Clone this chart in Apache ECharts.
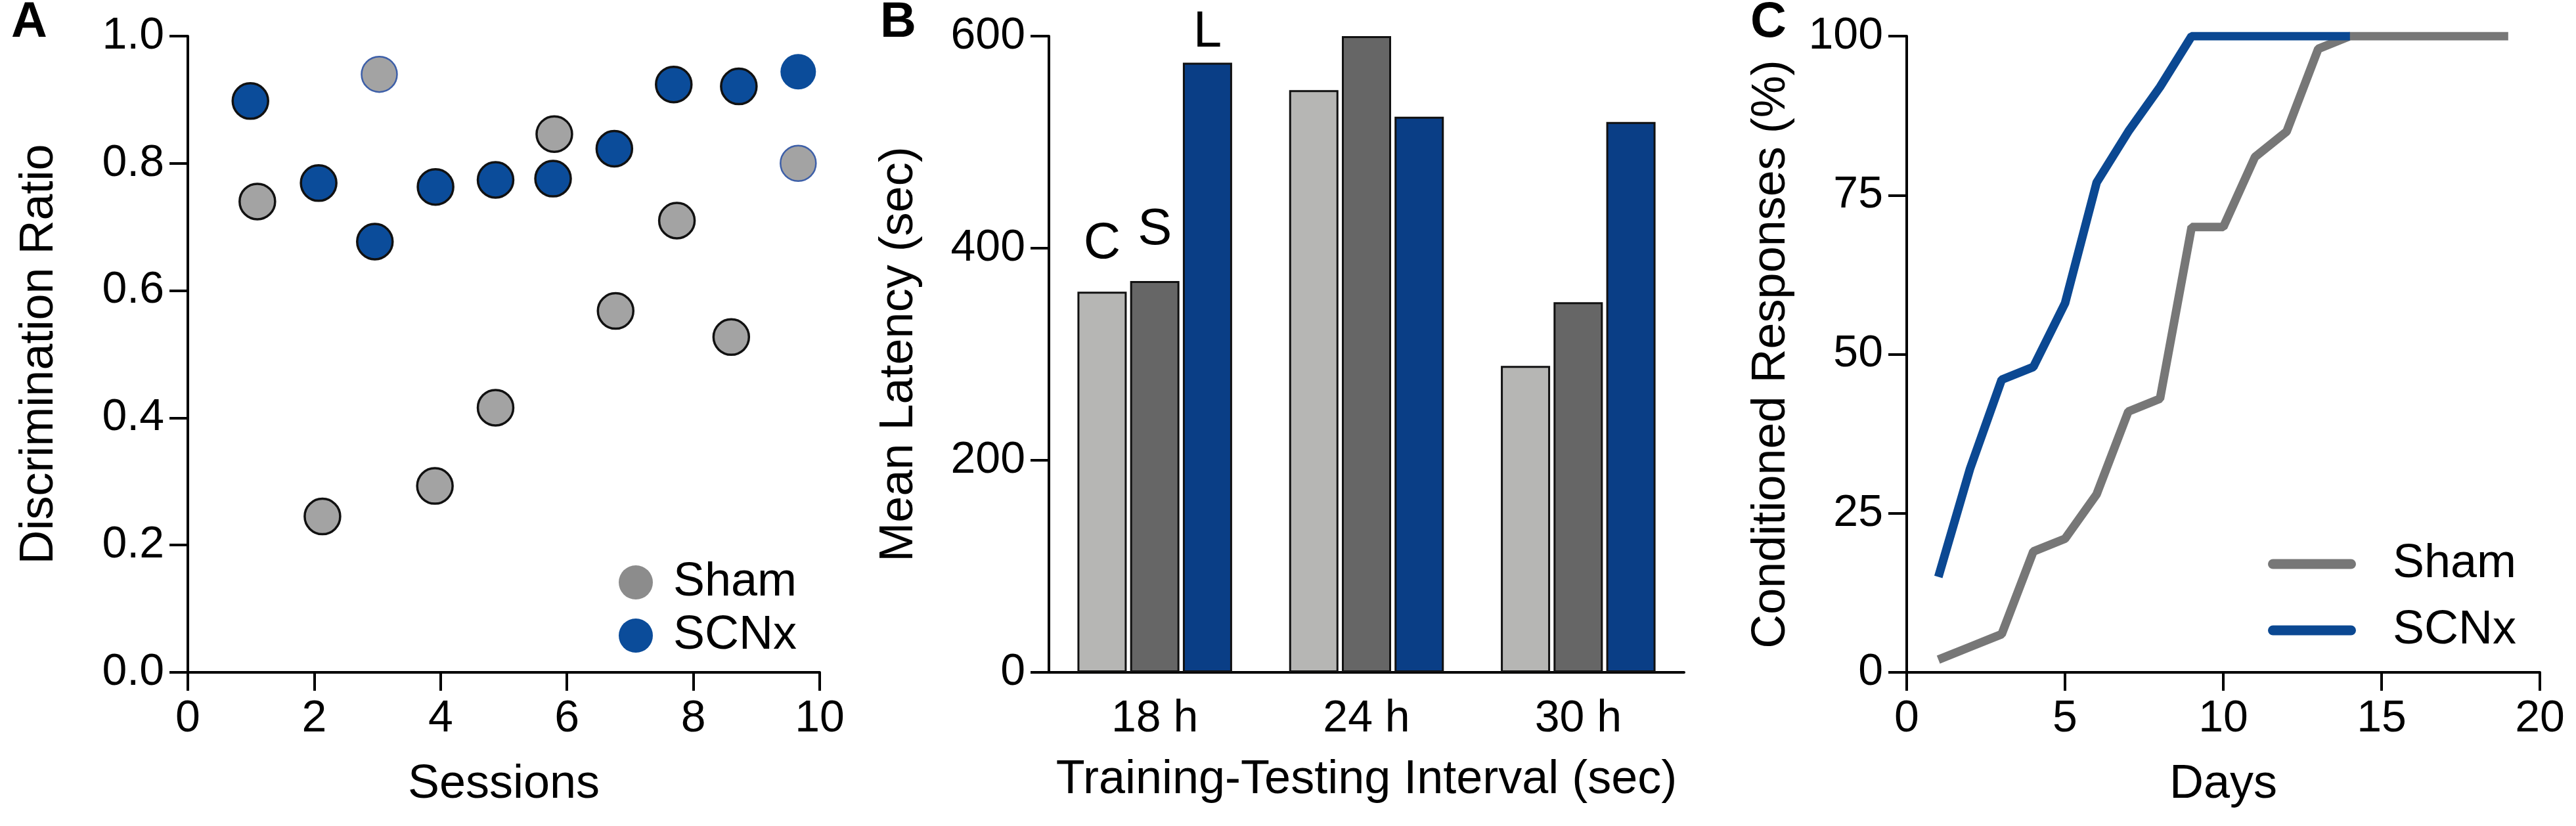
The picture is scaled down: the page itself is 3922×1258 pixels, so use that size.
<!DOCTYPE html>
<html lang="en">
<head>
<meta charset="UTF-8">
<title>Discrimination, latency and conditioned responses</title>
<script src="https://cdn.jsdelivr.net/npm/echarts@6/dist/echarts.min.js"></script>
<style>
    html, body { margin: 0; padding: 0; background: #fff; }
    #main { width: 3922px; height: 1258px; }
</style>
</head>
<body>
<div id="main"></div>
<script>
    // ---- panel A: discrimination ratio per session ----
    var shamSessions = [1.10, 2.13, 3.03, 3.91, 4.87, 5.80, 6.77, 7.74, 8.60, 9.66];
    var shamRatio = [0.74, 0.245, 0.94, 0.293, 0.416, 0.846, 0.568, 0.71, 0.527, 0.80];
    var shamBlueRing = [2, 9];      // grey points drawn with a thin blue ring
    var scnxSessions = [0.99, 2.07, 2.96, 3.92, 4.87, 5.78, 6.75, 7.69, 8.72, 9.66];
    var scnxRatio = [0.898, 0.769, 0.677, 0.763, 0.774, 0.776, 0.823, 0.924, 0.921, 0.944];
    var scnxNoRing = [9];

    // ---- panel B: mean latency ----
    var intervals = ['18 h', '24 h', '30 h'];
    var latencyC = [359, 549, 289];
    var latencyS = [369, 600, 349];
    var latencyL = [575, 524, 519];

    // ---- panel C: conditioned responses ----
    var shamDays = [1, 2, 3, 4, 5, 6, 7, 8, 9, 10, 11, 12, 13, 14, 15, 16, 17, 18, 19];
    var shamCR = [2, 4, 6, 19, 21, 28, 41, 43, 70, 70, 81, 85, 98, 100, 100, 100, 100, 100, 100];
    var scnxDays = [1, 2, 3, 4, 5, 6, 7, 8, 9, 10, 11, 12, 13, 14];
    var scnxCR = [15, 32, 46, 48, 58, 77, 85, 92, 100, 100, 100, 100, 100, 100];

    var FONT = 'Liberation Sans';
    var GREY = '#a3a3a3', BLUE = '#0b4c9a';

    var shamPoints = shamSessions.map(function (s, i) {
        var p = {value: [s, shamRatio[i]]};
        if (shamBlueRing.indexOf(i) >= 0) p.itemStyle = {borderColor: '#3d5fa8', borderWidth: 2.5};
        return p;
    });
    var scnxPoints = scnxSessions.map(function (s, i) {
        var p = {value: [s, scnxRatio[i]]};
        if (scnxNoRing.indexOf(i) >= 0) p.itemStyle = {borderWidth: 0};
        return p;
    });
    var shamLine = shamDays.map(function (d, i) { return [d, shamCR[i]]; });
    var scnxLine = scnxDays.map(function (d, i) { return [d, scnxCR[i]]; });

    function firstLabel(values, text, dist) {
        return values.map(function (v, i) {
            if (i > 0) return v;
            return {value: v, label: {show: true, position: 'top', formatter: text, distance: dist,
                fontSize: 78, color: '#000', fontFamily: FONT}};
        });
    }

    var axisLine = {lineStyle: {color: '#000', width: 4}};
    var axisTick = {length: 28, lineStyle: {color: '#000', width: 4}};
    var tickLabelX = {fontSize: 68, color: '#000', margin: 37, fontFamily: FONT};
    var tickLabelY = {fontSize: 68, color: '#000', margin: 36, fontFamily: FONT};
    var nameStyle = {fontSize: 72, color: '#000', fontFamily: FONT};

    function xValue(idx, min, max, step, name) {
        return {type: 'value', gridIndex: idx, min: min, max: max, interval: step,
            name: name, nameLocation: 'middle', nameGap: 135, nameTextStyle: nameStyle,
            axisLine: axisLine, axisTick: axisTick, axisLabel: tickLabelX, splitLine: {show: false}};
    }
    function yValue(idx, min, max, step, name, gap, fmt) {
        return {type: 'value', gridIndex: idx, min: min, max: max, interval: step,
            name: name, nameLocation: 'middle', nameGap: gap, nameTextStyle: nameStyle,
            axisLine: {show: true, lineStyle: axisLine.lineStyle}, axisTick: {show: true, length: 28, lineStyle: axisTick.lineStyle},
            axisLabel: Object.assign({}, tickLabelY, fmt ? {formatter: fmt} : {}), splitLine: {show: false}};
    }

    var roundLine = 'path://M7.5,0H126.5A7.5,7.5,0,0,1,126.5,15H7.5A7.5,7.5,0,0,1,7.5,0Z';

    var chart = echarts.init(document.getElementById('main'));
    chart.setOption({
        animation: false,
        backgroundColor: '#fff',
        textStyle: {fontFamily: FONT},
        grid: [
            {left: 286, top: 55, width: 962, height: 969},
            {left: 1597, top: 55, width: 967, height: 969},
            {left: 2903, top: 55, width: 964, height: 969}
        ],
        xAxis: [
            xValue(0, 0, 10, 2, 'Sessions'),
            {type: 'category', gridIndex: 1, data: intervals, name: 'Training-Testing Interval (sec)',
                nameLocation: 'middle', nameGap: 128, nameTextStyle: nameStyle,
                axisLine: axisLine, axisTick: {alignWithLabel: true, length: 28, lineStyle: axisTick.lineStyle},
                axisLabel: tickLabelX},
            xValue(2, 0, 20, 5, 'Days')
        ],
        yAxis: [
            yValue(0, 0, 1, 0.2, 'Discrimination Ratio', 190, function (v) { return v.toFixed(1); }),
            yValue(1, 0, 600, 200, 'Mean Latency (sec)', 192, null),
            yValue(2, 0, 100, 25, 'Conditioned Responses (%)', 170, null)
        ],
        legend: [
            {orient: 'vertical', left: 942, top: 851, padding: 0, itemGap: 9,
                itemWidth: 52, itemHeight: 52,
                textStyle: {fontSize: 72, color: '#000', lineHeight: 72, padding: [0, 0, 0, 26]},
                data: [
                    {name: 'Sham', icon: 'circle', itemStyle: {color: '#8c8c8c', borderWidth: 0}},
                    {name: 'SCNx', icon: 'circle', itemStyle: {color: BLUE, borderWidth: 0}}
                ]},
            {orient: 'vertical', left: 3453, top: 823, padding: 0, itemGap: 29,
                itemWidth: 134, itemHeight: 15,
                textStyle: {fontSize: 72, color: '#000', lineHeight: 72, padding: [0, 0, 0, 51]},
                data: [
                    {name: 'Sham', icon: roundLine, itemStyle: {color: '#777777', borderWidth: 0}},
                    {name: 'SCNx', icon: roundLine, itemStyle: {color: '#0b4892', borderWidth: 0}}
                ]}
        ],
        graphic: [
            {type: 'text', left: 17, top: -3, style: {text: 'A', fontSize: 76, fontWeight: 'bold', fontFamily: FONT, fill: '#000'}},
            {type: 'text', left: 1340, top: -3, style: {text: 'B', fontSize: 76, fontWeight: 'bold', fontFamily: FONT, fill: '#000'}},
            {type: 'text', left: 2665, top: -3, style: {text: 'C', fontSize: 76, fontWeight: 'bold', fontFamily: FONT, fill: '#000'}}
        ],
        series: [
            {name: 'Sham', type: 'scatter', xAxisIndex: 0, yAxisIndex: 0, symbolSize: 54,
                itemStyle: {color: GREY, borderColor: '#111', borderWidth: 3.5, opacity: 1},
                data: shamPoints},
            {name: 'SCNx', type: 'scatter', xAxisIndex: 0, yAxisIndex: 0, symbolSize: 54,
                itemStyle: {color: BLUE, borderColor: '#111', borderWidth: 3.5, opacity: 1},
                data: scnxPoints},
            {name: 'C', type: 'bar', xAxisIndex: 1, yAxisIndex: 1, barWidth: 75, barGap: '7%',
                itemStyle: {color: '#b6b6b4', borderColor: '#111', borderWidth: 3},
                data: firstLabel(latencyC, 'C', 34)},
            {name: 'S', type: 'bar', xAxisIndex: 1, yAxisIndex: 1, barWidth: 75, barGap: '7%',
                itemStyle: {color: '#666666', borderColor: '#111', borderWidth: 3},
                data: firstLabel(latencyS, 'S', 39)},
            {name: 'L', type: 'bar', xAxisIndex: 1, yAxisIndex: 1, barWidth: 75, barGap: '7%',
                itemStyle: {color: '#0a3e86', borderColor: '#111', borderWidth: 3},
                data: firstLabel(latencyL, 'L', 7)},
            {name: 'Sham', type: 'line', xAxisIndex: 2, yAxisIndex: 2, showSymbol: false, symbol: 'none',
                lineStyle: {color: '#777777', width: 13}, itemStyle: {color: '#777777'},
                data: shamLine},
            {name: 'SCNx', type: 'line', xAxisIndex: 2, yAxisIndex: 2, showSymbol: false, symbol: 'none',
                lineStyle: {color: '#0b4892', width: 13}, itemStyle: {color: '#0b4892'},
                data: scnxLine, z: 3}
        ]
    });
</script>
</body>
</html>
